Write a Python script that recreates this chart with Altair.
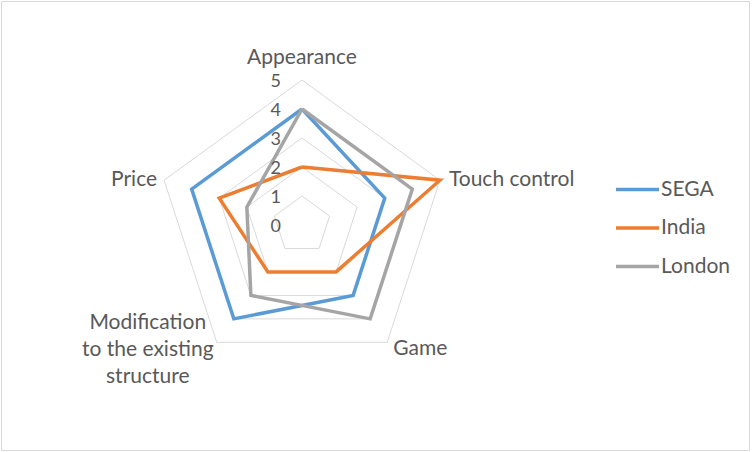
import altair as alt
import pandas as pd

# ---- data ----
categories = ["Appearance", "Touch control", "Game",
              "Modification\nto the existing\nstructure", "Price"]
series_names = ["SEGA", "India", "London"]
sega = [4, 3, 3, 4, 4]
india = [2, 5, 2, 2, 3]
london = [4, 4, 4, 3, 2]
tick_values = [0, 1, 2, 3, 4, 5]
grid_levels = [1, 2, 3, 4, 5]
colors = ["#5B9BD5", "#ED7D31", "#A5A5A5"]

N = len(categories)
MAXV = 5

# ---- tables built from the arrays ----
rows = []
for name, vals in zip(series_names, [sega, india, london]):
    for k in range(N + 1):
        rows.append({"series": name, "idx": k % N, "ord": k, "value": vals[k % N]})
series_df = pd.DataFrame(rows)

grid_rows = []
for lv in grid_levels:
    for k in range(N + 1):
        grid_rows.append({"level": lv, "idx": k % N, "ord": k, "value": lv})
grid_df = pd.DataFrame(grid_rows)

tick_df = pd.DataFrame({"value": tick_values, "idx": [0] * len(tick_values),
                        "label": [str(t) for t in tick_values]})
cat_df = pd.DataFrame({"idx": list(range(N)), "label": categories, "value": [MAXV] * N})

# ---- geometry (pixels per unit, centre) ----
W, H = 748, 449
unit = 29.0
cx, cy = 301.0, 224.0  # centre in view pixels
xdom = [-cx / unit, (W - cx) / unit]
ydom = [-(H - cy) / unit, cy / unit]

X = alt.X("px:Q", scale=alt.Scale(domain=xdom, nice=False, zero=False), axis=None)
Y = alt.Y("py:Q", scale=alt.Scale(domain=ydom, nice=False, zero=False), axis=None)


def polar(ch):
    return ch.transform_calculate(
        ang=f"PI/2 - 2*PI*datum.idx/{N}"
    ).transform_calculate(
        px="datum.value*cos(datum.ang)",
        py="datum.value*sin(datum.ang)",
    )


FONT = "Lato"
TXT = "#595959"

grid = polar(alt.Chart(grid_df)).mark_line(color="#D9D9D9", strokeWidth=1).encode(
    x=X, y=Y, detail="level:N", order="ord:Q")

color_enc = alt.Color("series:N",
                      scale=alt.Scale(domain=series_names, range=colors),
                      legend=alt.Legend(title=None, orient="none", legendX=613, legendY=165,
                                        symbolType="stroke", symbolSize=1849,
                                        symbolStrokeWidth=3.5, labelFont=FONT,
                                        labelFontSize=21, labelColor=TXT,
                                        labelOffset=0, rowPadding=4.5, padding=0))

lines = []
for name in series_names:
    lines.append(
        polar(alt.Chart(series_df)).transform_filter(alt.datum.series == name)
        .mark_line(strokeWidth=3.5, strokeJoin="miter")
        .encode(x=X, y=Y, color=color_enc, order="ord:Q")
    )

ticks = polar(alt.Chart(tick_df)).mark_text(
    align="right", baseline="middle", dx=-21, dy=2, font=FONT, fontSize=18, color=TXT
).encode(x=X, y=Y, text="label:N")

label_styles = [
    dict(align="center", baseline="middle", dx=0, dy=-22),
    dict(align="left", baseline="middle", dx=9, dy=0),
    dict(align="left", baseline="middle", dx=6, dy=7),
    dict(align="center", baseline="middle", dx=-69, dy=-19, lineBreak="\n", lineHeight=27),
    dict(align="right", baseline="middle", dx=-7, dy=0),
]
labels = []
for i, st in enumerate(label_styles):
    labels.append(
        polar(alt.Chart(cat_df)).transform_filter(alt.datum.idx == i)
        .mark_text(font=FONT, fontSize=21, color=TXT, **st)
        .encode(x=X, y=Y, text="label:N")
    )

chart = alt.layer(grid, *lines, ticks, *labels).properties(
    width=W, height=H,
    autosize=alt.AutoSizeParams(type="none"),
    padding={"left": 1, "top": 1, "right": 3, "bottom": 2},
    background="white",
).configure_view(stroke="#D9D9D9", strokeWidth=1)

chart.save("out.html", embed_options={"renderer": "svg", "actions": False})
